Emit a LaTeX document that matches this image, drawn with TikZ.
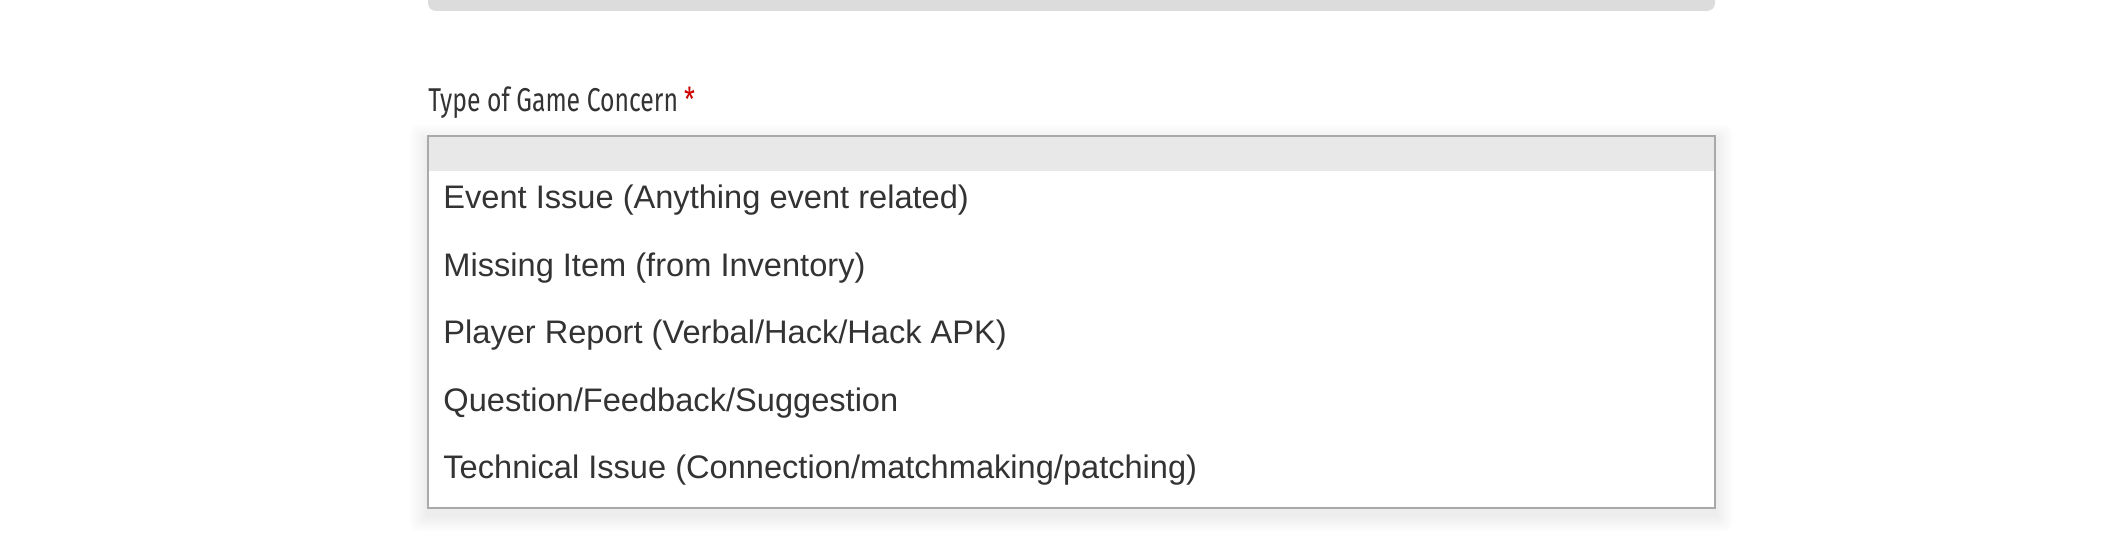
\documentclass[tikz,border=0pt]{standalone}
\usepackage{fontspec}
\setmainfont{Liberation Sans}
\newfontfamily\labelfont[FakeStretch=0.75]{Fira Sans}
\usetikzlibrary{positioning}
\definecolor{txtgrey}{HTML}{333333}
\definecolor{bargrey}{HTML}{DCDCDC}
\definecolor{boxgrey}{HTML}{A9A9A9}
\definecolor{headgrey}{HTML}{E8E8E8}
\definecolor{reqred}{HTML}{CC0000}
\tikzset{
  opt/.style={anchor=base west, inner sep=0pt, text=txtgrey, font=\fontsize{16.3pt}{19pt}\selectfont},
  lbl/.style={anchor=base west, inner sep=0pt, text=txtgrey, font=\labelfont\fontsize{16.5pt}{19pt}\selectfont},
  listbox/.style={draw=boxgrey, line width=1pt, fill=white, inner sep=0pt, minimum width=643.5pt, minimum height=186pt}
}

\begin{document}
\begin{tikzpicture}[x=0.5pt,y=-0.5pt]
    \useasboundingbox (0,0) rectangle (2119,533);

    % bar of the field above
    \fill[bargrey, rounded corners=4pt] (428,-30) rectangle (1715,11);

    % label
    \node[lbl] (concern) at (428,112) {Type of Game Concern};
    \node[lbl, text=reqred] (req) at ([xshift=2.7pt]concern.base east) {*};

    % soft shadow of the list
    \foreach \s in {2,4,...,18}
        \fill[black, opacity=0.006, rounded corners=\s*0.25pt] (428-\s,136-\s+6) rectangle (1715+\s,508+\s+6);

    % list of choices
    \node[listbox] (list) at (1071.5,322) {};
    \fill[headgrey] (429,137) rectangle (1714,171);

    \node[opt] (event)    at (443,209) {Event Issue (Anything event related)};
    \node[opt] (missing)  at (443,277) {Missing Item (from Inventory)};
    \node[opt] (player)   at (443,344) {Player Report (Verbal/Hack/Hack APK)};
    \node[opt] (question) at (443,412) {Question/Feedback/Suggestion};
    \node[opt] (technical) at (443,479) {Technical Issue (Connection/matchmaking/patching)};
\end{tikzpicture}
\end{document}
